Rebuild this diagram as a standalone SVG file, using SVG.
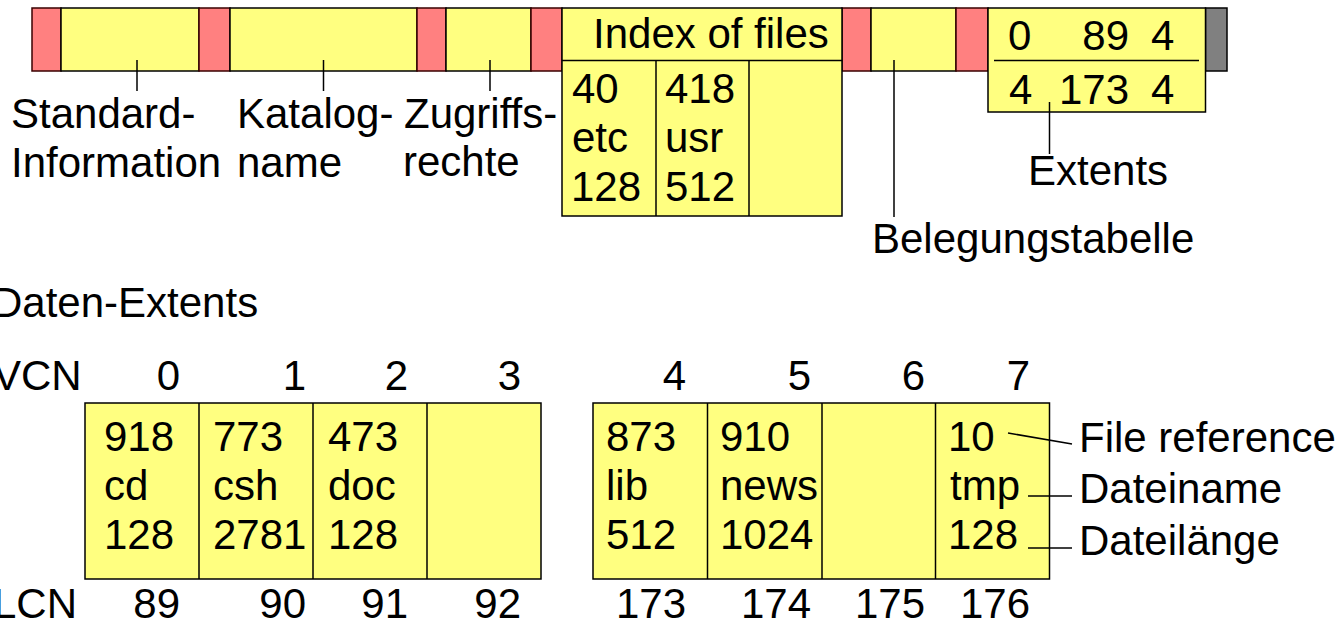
<svg xmlns="http://www.w3.org/2000/svg" width="1341" height="622" viewBox="0 0 1341 622">
<style>
text{font-family:"Liberation Sans",Arial,sans-serif;font-size:42px;fill:#000}
.r{fill:#FF8080;stroke:#3a0000;stroke-width:1.5}
.y{fill:#FFFF80;stroke:#000;stroke-width:1.5}
.g{fill:#808080;stroke:#000;stroke-width:1.5}
.ln{stroke:#000;stroke-width:1.5;fill:none}
.e{text-anchor:end}
</style>
<rect width="1341" height="622" fill="#fff"/>
<g id="mft-record">
<rect class="r" x="32" y="8" width="29" height="63"/>
<rect class="y" x="61" y="8" width="138" height="63"/>
<rect class="r" x="199" y="8" width="31" height="63"/>
<rect class="y" x="230" y="8" width="187" height="63"/>
<rect class="r" x="417" y="8" width="29" height="63"/>
<rect class="y" x="446" y="8" width="85" height="63"/>
<rect class="r" x="531" y="8" width="31" height="63"/>
<rect class="r" x="842" y="8" width="29" height="63"/>
<rect class="y" x="871" y="8" width="85" height="63"/>
<rect class="r" x="956" y="8" width="32" height="63"/>
<rect class="g" x="1205.5" y="8" width="21.5" height="63"/>
</g>
<g id="index-of-files">
<rect class="y" x="562" y="8" width="280" height="208"/>
<line class="ln" x1="562" y1="60.5" x2="842" y2="60.5"/>
<line class="ln" x1="656" y1="60.5" x2="656" y2="216"/>
<line class="ln" x1="749" y1="60.5" x2="749" y2="216"/>
<text x="593" y="48">Index of files</text>
<text x="572" y="103">40</text>
<text x="572" y="152">etc</text>
<text x="571" y="201">128</text>
<text x="665" y="103">418</text>
<text x="665" y="152">usr</text>
<text x="665" y="201">512</text>
</g>
<g id="extents-box">
<rect class="y" x="988" y="8" width="217.5" height="104"/>
<line class="ln" x1="994" y1="60.5" x2="1199" y2="60.5"/>
<text x="1008" y="50">0</text>
<text class="e" x="1129" y="50">89</text>
<text x="1151" y="50">4</text>
<text x="1009" y="104">4</text>
<text class="e" x="1129" y="104">173</text>
<text x="1151" y="104">4</text>
</g>
<g id="data-extent-1">
<rect class="y" x="85" y="403" width="456" height="176"/>
<line class="ln" x1="199" y1="403" x2="199" y2="579"/>
<line class="ln" x1="313" y1="403" x2="313" y2="579"/>
<line class="ln" x1="427" y1="403" x2="427" y2="579"/>
<text x="104" y="451">918</text>
<text x="104" y="500">cd</text>
<text x="104" y="549">128</text>
<text x="213" y="451">773</text>
<text x="213" y="500">csh</text>
<text x="213" y="549">2781</text>
<text x="328" y="451">473</text>
<text x="328" y="500">doc</text>
<text x="328" y="549">128</text>
</g>
<g id="data-extent-2">
<rect class="y" x="593" y="403" width="456.5" height="176"/>
<line class="ln" x1="707.5" y1="403" x2="707.5" y2="579"/>
<line class="ln" x1="822" y1="403" x2="822" y2="579"/>
<line class="ln" x1="935.5" y1="403" x2="935.5" y2="579"/>
<text x="606" y="451">873</text>
<text x="606" y="500">lib</text>
<text x="606" y="549">512</text>
<text x="720" y="451">910</text>
<text x="720" y="500">news</text>
<text x="720" y="549">1024</text>
<text x="948" y="451">10</text>
<text x="950" y="500">tmp</text>
<text x="948" y="549">128</text>
</g>
<g id="labels">
<text x="11" y="128">Standard-</text>
<text x="11" y="177">Information</text>
<text x="237" y="128">Katalog-</text>
<text x="237" y="177">name</text>
<text x="404" y="128">Zugriffs-</text>
<text x="403" y="176">rechte</text>
<text x="1028" y="185">Extents</text>
<text x="872" y="253">Belegungstabelle</text>
<text x="-8" y="317">Daten-Extents</text>
<text x="-7" y="390">VCN</text>
<text x="-7" y="618">LCN</text>
<text x="1079" y="452">File reference</text>
<text x="1079" y="503">Dateiname</text>
<text x="1079" y="555">Dateilänge</text>
</g>
<g id="vcn">
<text class="e" x="180" y="390">0</text>
<text class="e" x="306" y="390">1</text>
<text class="e" x="408" y="390">2</text>
<text class="e" x="521" y="390">3</text>
<text class="e" x="686" y="390">4</text>
<text class="e" x="811" y="390">5</text>
<text class="e" x="925" y="390">6</text>
<text class="e" x="1030" y="390">7</text>
</g>
<g id="lcn">
<text class="e" x="180" y="618">89</text>
<text class="e" x="306" y="618">90</text>
<text class="e" x="408" y="618">91</text>
<text class="e" x="521" y="618">92</text>
<text class="e" x="686" y="618">173</text>
<text class="e" x="811" y="618">174</text>
<text class="e" x="925" y="618">175</text>
<text class="e" x="1030" y="618">176</text>
</g>
<g id="connectors">
<line class="ln" x1="137" y1="60" x2="137" y2="91"/>
<line class="ln" x1="323.5" y1="60" x2="323.5" y2="91"/>
<line class="ln" x1="490" y1="60" x2="490" y2="91"/>
<line class="ln" x1="894" y1="60" x2="894" y2="217"/>
<line class="ln" x1="1049.5" y1="102" x2="1049.5" y2="154"/>
<line class="ln" x1="1008" y1="433" x2="1072" y2="444"/>
<line class="ln" x1="1028" y1="496" x2="1072" y2="496"/>
<line class="ln" x1="1028" y1="548" x2="1072" y2="548"/>
</g>
</svg>
